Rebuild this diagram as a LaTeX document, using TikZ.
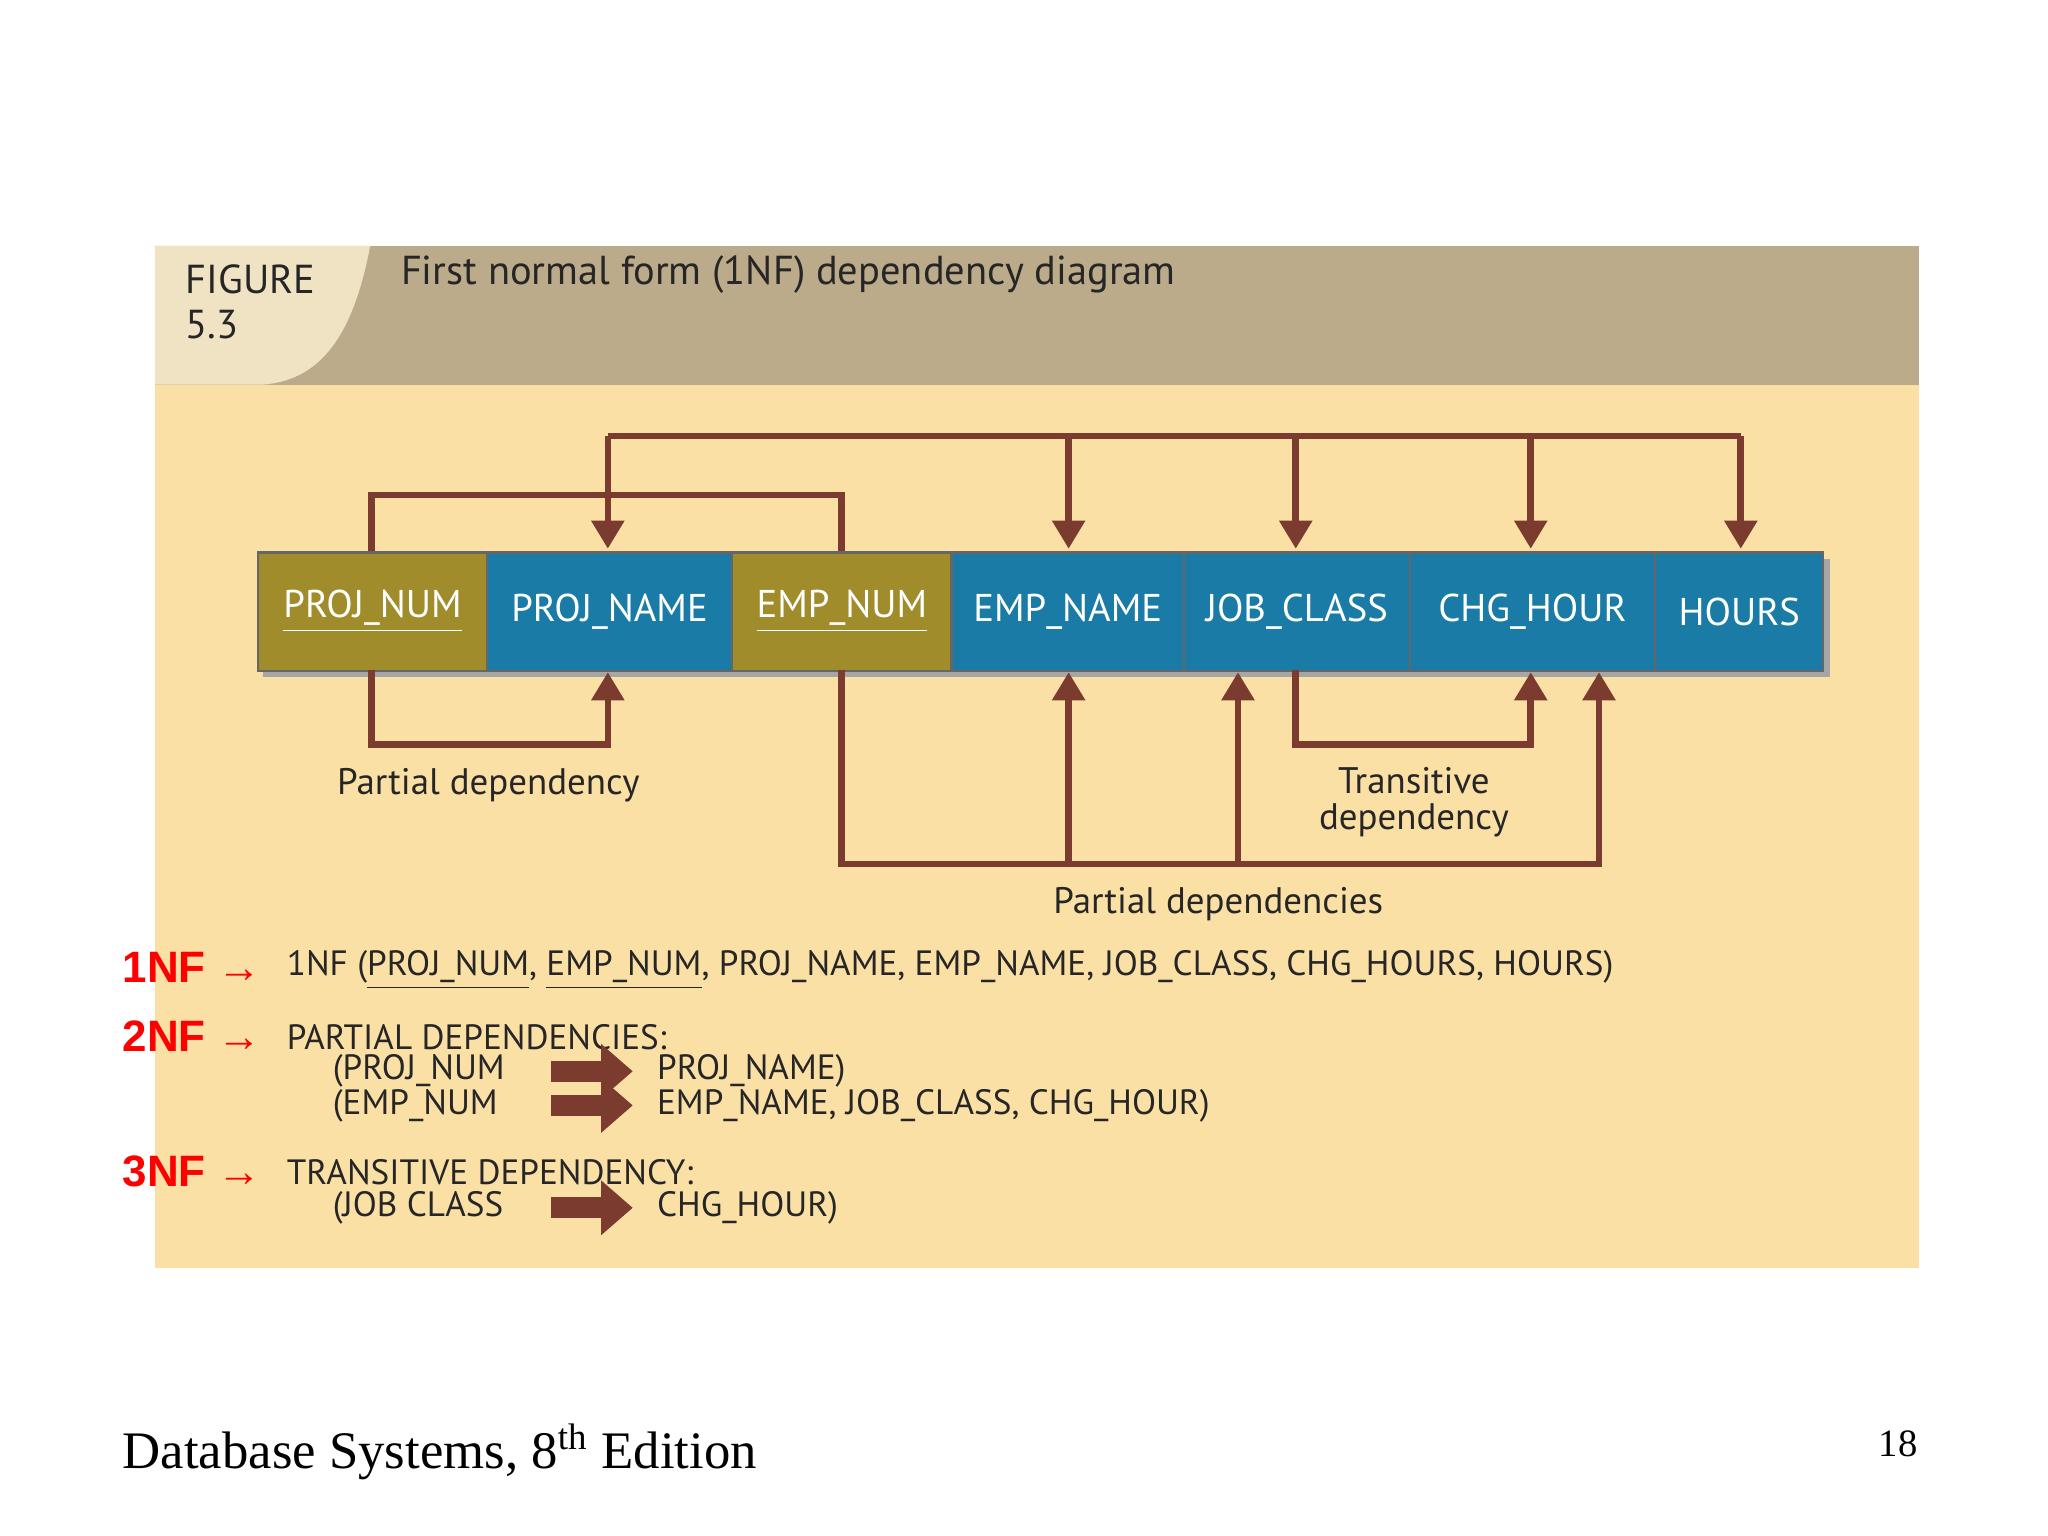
\documentclass[tikz,border=0pt]{standalone}
\usepackage{fontspec}
\setmainfont{PT Sans}
\newfontfamily\tms{Liberation Serif}
\newfontfamily\ars{Liberation Sans}
\usetikzlibrary{arrows.meta}
\definecolor{tan}{HTML}{BBAB8A}
\definecolor{tab}{HTML}{EFE3C4}
\definecolor{body}{HTML}{FBE0A6}
\definecolor{olive}{HTML}{A08C2A}
\definecolor{blu}{HTML}{1A7BA6}
\definecolor{arr}{HTML}{7B3B2E}
\begin{document}
\begin{tikzpicture}[x=0.01313cm,y=-0.01313cm,
 box/.style={draw=black!60,line width=0.6pt,minimum height=90*0.01313cm,text=white,font=\fontsize{11}{13}\selectfont,inner sep=0pt,anchor=north west},
 dep/.style={draw=arr,line width=1.9pt,line join=miter},
 ar/.style={dep,-{Triangle[length=8pt,width=9pt]}},
 lab/.style={font=\fontsize{10.5}{11}\selectfont,text=black!85,align=center},
 txt/.style={font=\fontsize{10}{11}\selectfont,anchor=west,inner sep=0pt,text=black!85},
 nfl/.style={font=\ars\bfseries\fontsize{12.5}{13}\selectfont,text=red,anchor=west,inner sep=0pt},
 fat/.style={draw=arr,line width=6pt,-{Triangle[length=9pt,width=15pt]}}]
\useasboundingbox (0,0) rectangle (1560,1170);
\fill[white] (0,0) rectangle (1560,1170);
\fill[body] (118,293) rectangle (1462,966);
\fill[tan] (118,187) rectangle (1462,293);
\fill[tab] (118,187) -- (282,187) .. controls (268,262) and (240,290) .. (200,293) -- (118,293) -- cycle;
\node[lab,anchor=north west,align=left,font=\fontsize{11.5}{12.8}\selectfont] (fig) at (132,192) {FIGURE\\5.3};
\node[lab,anchor=west,font=\fontsize{11.5}{13}\selectfont] (ttl) at (296,209) {First normal form (1NF) dependency diagram};
% shadow
\fill[black!35] (200,426) rectangle (1394,516);
\node[box,fill=olive,minimum width=174*0.01313cm] (pn) at (196,420) {\underline{PROJ\_NUM}};
\node[box,fill=blu,minimum width=187*0.01313cm] (pm) at (370,420) {PROJ\_NAME};
\node[box,fill=olive,minimum width=167*0.01313cm] (en) at (557,420) {\underline{EMP\_NUM}};
\node[box,fill=blu,minimum width=177*0.01313cm] (em) at (724,420) {EMP\_NAME};
\node[box,fill=blu,minimum width=172*0.01313cm] (jc) at (901,420) {JOB\_CLASS};
\node[box,fill=blu,minimum width=187*0.01313cm] (ch) at (1073,420) {CHG\_HOUR};
\node[box,fill=blu,minimum width=128*0.01313cm] (hr) at (1260,420) {HOURS};
% top connectors
\draw[dep] (283,420) -- (283,377) -- (641,377) -- (641,420);
\draw[ar] (463,332) -- (463,418);
\draw[dep] (463,332) -- (1326,332);
\draw[ar] (1326,332) -- (1326,418);
\draw[ar] (814,332) -- (814,418);
\draw[ar] (987,332) -- (987,418);
\draw[ar] (1166,332) -- (1166,418);
% bottom connectors
\draw[ar] (283,510) -- (283,567) -- (463,567) -- (463,512);
\draw[ar] (641,510) -- (641,658) -- (1218,658) -- (1218,512);
\draw[ar] (814,658) -- (814,512);
\draw[ar] (943,658) -- (943,512);
\draw[ar] (987,510) -- (987,567) -- (1166,567) -- (1166,512);
\node[lab] (l1) at (372,598) {Partial dependency};
\node[lab,font=\fontsize{10.5}{10}\selectfont] (l2) at (1077,611) {Transitive\\dependency};
\node[lab] (l3) at (928,689) {Partial dependencies};
% normal forms
\node[nfl] (r1) at (93,737) {1NF →};
\node[nfl] (r2) at (93,789) {2NF →};
\node[nfl] (r3) at (93,892) {3NF →};
\node[txt] (t1) at (218,739) {1NF (\underline{PROJ\_NUM}, \underline{EMP\_NUM}, PROJ\_NAME, EMP\_NAME, JOB\_CLASS, CHG\_HOURS, HOURS)};
\node[txt] (t2) at (218,790) {PARTIAL DEPENDENCIES:};
\node[txt] (a1) at (253,816) {(PROJ\_NUM};
\node[txt] (b1) at (500,816) {PROJ\_NAME)};
\node[txt] (a2) at (253,842) {(EMP\_NUM};
\node[txt] (b2) at (500,842) {EMP\_NAME, JOB\_CLASS, CHG\_HOUR)};
\node[txt] (t3) at (218,893) {TRANSITIVE DEPENDENCY:};
\node[txt] (a3) at (253,920) {(JOB CLASS};
\node[txt] (b3) at (500,920) {CHG\_HOUR)};
\coordinate (f1s) at (420,816); \coordinate (f1e) at (482,816);
\coordinate (f2s) at (420,842); \coordinate (f2e) at (482,842);
\coordinate (f3s) at (420,920); \coordinate (f3e) at (482,920);
\draw[fat] (f1s) -- (f1e);
\draw[fat] (f2s) -- (f2e);
\draw[fat] (f3s) -- (f3e);
% footer
\node[anchor=west,inner sep=0pt,font=\tms\fontsize{15}{16}\selectfont] (ft) at (93,1106) {Database Systems, 8\textsuperscript{th} Edition};
\node[anchor=east,inner sep=0pt,font=\tms\fontsize{11}{12}\selectfont] (pg) at (1461,1100) {18};
\end{tikzpicture}
\end{document}
